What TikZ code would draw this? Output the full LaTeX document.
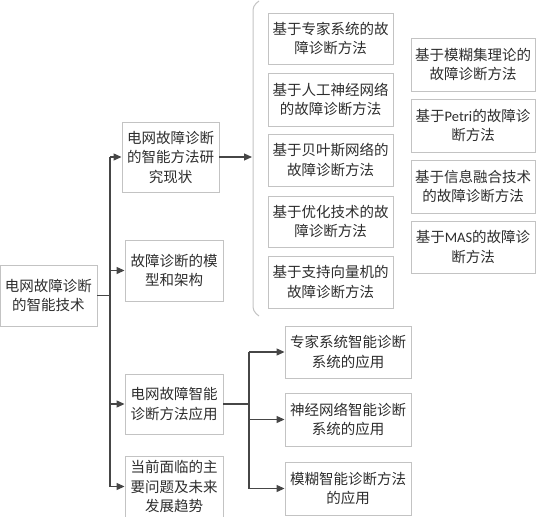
\documentclass[tikz,border=0pt]{standalone}
\usepackage{fontspec}
\setmainfont{Noto Sans CJK SC}
\newfontfamily\latinfont{Carlito}
\usetikzlibrary{arrows.meta, positioning, calc}
\definecolor{boxline}{RGB}{195,195,195}
\definecolor{linkgray}{RGB}{70,70,70}
\definecolor{textgray}{RGB}{45,45,45}

\begin{document}
\begin{tikzpicture}[x=1pt, y=-1pt,
  box/.style={draw=boxline, line width=0.9pt, align=center, inner sep=0pt,
    text=textgray, font=\fontsize{14.5}{19.5}\selectfont},
  small/.style={box, minimum width=98pt, minimum height=61pt},
  wide/.style={box, minimum width=125pt, minimum height=52pt},
  link/.style={linkgray, line width=1.2pt},
  arr/.style={link, -{Triangle[length=8pt, width=7pt]}}]
  \useasboundingbox (0,0) rectangle (536,517);

  % left column
  \node[small, minimum width=97pt] (root) at (48.5,295.5) {电网故障诊断\\的智能技术};
  \node[small, minimum width=97pt, minimum height=70pt] (status) at (170.5,157) {电网故障诊断\\的智能方法研\\究现状};
  \node[small] (model) at (174,270.5) {故障诊断的模\\型和架构};
  \node[small, minimum height=60pt] (apply) at (174,404) {电网故障智能\\诊断方法应用};
  \node[small] (trend) at (174,486.5) {当前面临的主\\要问题及未来\\发展趋势};

  % methods, first group
  \node[wide, minimum height=51pt] (expert) at (330.5,38.5) {基于专家系统的故\\障诊断方法};
  \node[wide, minimum height=53pt] (ann) at (330.5,99.5) {基于人工神经网络\\的故障诊断方法};
  \node[wide] (bayes) at (330.5,160) {基于贝叶斯网络的\\故障诊断方法};
  \node[wide, minimum height=51pt] (optim) at (330.5,221.5) {基于优化技术的故\\障诊断方法};
  \node[wide] (svm) at (330.5,282) {基于支持向量机的\\故障诊断方法};

  % methods, second group
  \node[wide, minimum width=124pt, minimum height=53pt] (fuzzy) at (473,64.5) {基于模糊集理论的\\故障诊断方法};
  \node[wide, minimum width=124pt, minimum height=53pt] (petri) at (473,125.5) {基于{\latinfont Petri}的故障诊\\断方法};
  \node[wide, minimum width=124pt, minimum height=53pt] (fusion) at (473,186.5) {基于信息融合技术\\的故障诊断方法};
  \node[wide, minimum width=124pt] (mas) at (473,247) {基于{\latinfont MAS}的故障诊\\断方法};

  % applications
  \node[wide, minimum width=126pt] (appexp) at (348,352) {专家系统智能诊断\\系统的应用};
  \node[wide, minimum width=126pt, minimum height=53pt] (appnn) at (348,419.5) {神经网络智能诊断\\系统的应用};
  \node[wide, minimum width=126pt, minimum height=53pt] (appfz) at (348,488.5) {模糊智能诊断方法\\的应用};

  % main tree
  \coordinate (fork) at (110,295.5);
  \draw[link] (root.east) -- (fork);
  \draw[link] (fork |- status.west) -- (fork |- trend.west);
  \foreach \n in {status, model, apply, trend}
    \draw[arr] (fork |- \n.west) -- (\n.west);

  % bracket round the method list
  \coordinate (brace) at (252,157);
  \draw[arr] (status.east) -- (brace);
  \draw[boxline, line width=1pt, rounded corners=4pt] (259,1) -- (253,6) -- (253,311) -- (259,316);

  % application branch
  \coordinate (fork2) at (249,404);
  \draw[link] (apply.east) -- (fork2);
  \draw[link] (fork2 |- appexp.west) -- (fork2 |- appfz.west);
  \foreach \n in {appexp, appnn, appfz}
    \draw[arr] (fork2 |- \n.west) -- (\n.west);
\end{tikzpicture}
\end{document}
